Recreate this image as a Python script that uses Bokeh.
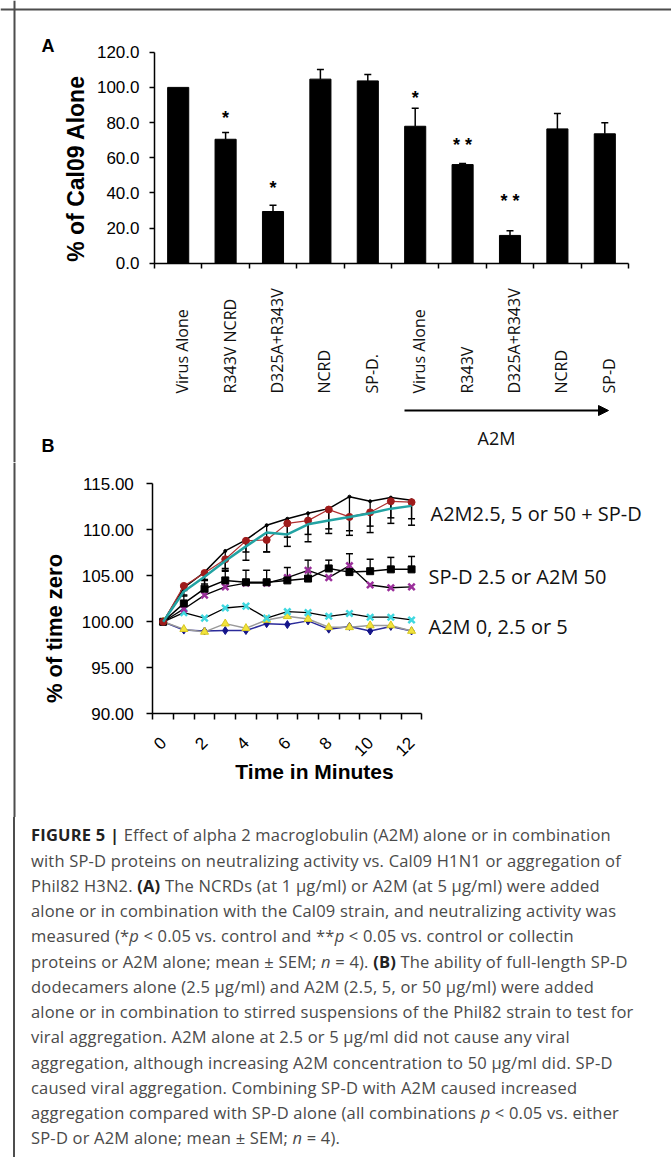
import math
from bokeh.plotting import figure
from bokeh.models import (LinearAxis, FixedTicker, PrintfTickFormatter, Span, Whisker,
                          ColumnDataSource, Arrow, NormalHead, TeeHead, Div, Range1d)
from bokeh.layouts import column
from bokeh.embed import file_html
from bokeh.resources import INLINE
from bokeh.core.properties import value

# ---------------- Panel A data ----------------
a_categories = ["Virus Alone", "R343V NCRD", "D325A+R343V", "NCRD", "SP-D.",
                "Virus Alone", "R343V", "D325A+R343V", "NCRD", "SP-D"]
a_values = [100.0, 70.5, 29.4, 104.7, 103.7, 77.9, 56.1, 15.8, 76.4, 73.6]
a_sem = [0.0, 3.8, 3.6, 5.5, 3.6, 10.3, 0.6, 2.6, 8.8, 6.3]
a_sig = ["", "*", "*", "", "", "*", "* *", "* *", "", ""]
a_sig_y = [None, 82.7, 42.7, None, None, 93.9, 67.1, 35.1, None, None]
a_group_label = "A2M"
a_yticks = [0, 20, 40, 60, 80, 100, 120]
a_ylabel = "% of Cal09 Alone"

# ---------------- Panel B data ----------------
b_minutes = list(range(13))
b_tick_minutes = [0, 2, 4, 6, 8, 10, 12]
b_yticks = [90, 95, 100, 105, 110, 115]
b_ylabel = "% of time zero"
b_xlabel = "Time in Minutes"
# A2M 2.5, 5 or 50 + SP-D
b_combo_black = [100.0, 103.7, 105.4, 107.7, 108.9, 110.5, 111.2, 111.8, 112.3, 113.6, 113.1, 113.5, 113.2]
b_combo_black_sem = [0.0, 0.8, 1.3, 2.1, 2.2, 2.9, 3.0, 3.1, 2.7, 4.2, 3.4, 2.8, 2.7]
b_combo_red = [100.0, 103.9, 105.3, 106.8, 108.8, 108.9, 110.7, 111.0, 112.2, 111.4, 111.9, 113.1, 113.0]
b_combo_red_sem = [0.0, 0.5, 0.8, 1.0, 1.2, 1.3, 1.5, 1.5, 2.1, 1.5, 1.5, 1.8, 1.8]
b_combo_teal = [100.0, 103.3, 104.9, 106.6, 108.2, 109.7, 109.5, 110.6, 111.0, 111.4, 111.8, 112.3, 112.6]
# SP-D 2.5 or A2M 50
b_spd = [100.0, 102.0, 103.6, 104.5, 104.3, 104.3, 104.5, 104.7, 105.8, 105.4, 105.5, 105.7, 105.7]
b_spd_sem = [0.0, 0.8, 1.0, 1.0, 1.3, 1.3, 1.4, 2.0, 0.9, 2.0, 1.3, 1.3, 1.4]
b_a2m50 = [100.0, 101.4, 102.9, 103.8, 104.2, 104.2, 104.8, 105.6, 104.8, 106.1, 104.0, 103.7, 103.8]
# A2M 0, 2.5 or 5
b_a2m0 = [100.0, 101.0, 100.4, 101.5, 101.7, 100.4, 101.1, 101.0, 100.6, 100.9, 100.5, 100.5, 100.2]
b_a2m25 = [100.0, 99.2, 98.9, 99.8, 99.3, 100.2, 100.6, 100.3, 99.4, 99.4, 99.6, 99.6, 99.0]
b_a2m5 = [100.0, 99.1, 99.0, 99.05, 99.05, 99.8, 99.7, 100.1, 99.2, 99.5, 99.0, 99.5, 99.0]
b_group_labels = ["A2M2.5, 5 or 50 + SP-D", "SP-D 2.5 or A2M 50", "A2M 0, 2.5 or 5"]

# ---------------- layout geometry (page pixels, page origin at 0,0) ----------------
PAGE_W = 671
A_H = 462
B_H = 355
CAP_H = 1157 - A_H - B_H
FRAME = "#4d4d4d"
ARIAL = "Liberation Sans"
CAL = "Open Sans"

A_AXIS_X = 154.0
A_CAT_W = 47.4
A_Y0 = 262.7
A_PPU = 1.758


def ax(px):
    return (px - A_AXIS_X) / A_CAT_W - 0.5


def ay(py):
    return (A_Y0 - py) / A_PPU


def style_axis(axs, tick_len):
    axs.axis_line_width = 1.5
    axs.axis_line_color = "black"
    axs.major_tick_line_width = 1.5
    axs.minor_tick_line_width = 1.5
    axs.major_tick_in = 0
    axs.major_tick_out = tick_len
    axs.minor_tick_in = 0
    axs.minor_tick_out = tick_len
    axs.major_label_text_font = ARIAL
    axs.major_label_text_font_size = "17px"
    axs.major_label_text_color = "black"


pA = figure(width=PAGE_W, height=A_H,
            x_range=Range1d(ax(0), ax(PAGE_W)),
            y_range=Range1d(ay(A_H), ay(0)),
            output_backend="svg", toolbar_location=None, min_border=0,
            x_axis_location=None, y_axis_location=None)
pA.outline_line_color = None
pA.grid.visible = False
pA.background_fill_color = "white"
pA.border_fill_color = "white"

yA = LinearAxis(fixed_location=-0.5, bounds=(0, 120), ticker=FixedTicker(ticks=a_yticks),
                formatter=PrintfTickFormatter(format="%.1f"))
xA = LinearAxis(fixed_location=0, bounds=(-0.5, 9.5),
                ticker=FixedTicker(ticks=[], minor_ticks=[i - 0.5 for i in range(11)]))
style_axis(yA, 5)
style_axis(xA, 5)
yA.minor_tick_line_color = None
yA.major_label_standoff = 10
xA.major_tick_line_color = None
xA.major_label_text_font_size = "0px"
pA.add_layout(yA, "left")
pA.add_layout(xA, "below")

a_x = list(range(len(a_values)))
pA.vbar(x=a_x, top=a_values, width=0.445, color="black")
err_src = ColumnDataSource(dict(
    x=[x for x, e in zip(a_x, a_sem) if e > 0],
    lo=[v for v, e in zip(a_values, a_sem) if e > 0],
    hi=[v + e for v, e in zip(a_values, a_sem) if e > 0]))
pA.add_layout(Whisker(source=err_src, base="x", lower="lo", upper="hi",
                      line_color="black", line_width=1.5,
                      upper_head=TeeHead(size=7, line_width=1.5, line_color="black"),
                      lower_head=None))
sig_x = [x for x, s in zip(a_x, a_sig) if s]
sig_t = [s for s in a_sig if s]
sig_yy = [y for y, s in zip(a_sig_y, a_sig) if s]
pA.text(x=sig_x, y=sig_yy, text=sig_t, text_align="center", text_baseline="middle",
        text_font=value(ARIAL), text_font_style="bold", text_font_size="18px", text_color="black")

# y-axis title
pA.text(x=[ax(75)], y=[ay(168)], text=[a_ylabel], angle=math.pi / 2, text_align="center",
        text_baseline="middle", text_font=value(ARIAL), text_font_style="bold",
        text_font_size="23px", text_color="black")

lab_dx = 4.0 / A_CAT_W
pA.text(x=[x + lab_dx for x in a_x], y=[ay(393)] * len(a_x), text=a_categories,
        angle=math.pi / 2, text_align="left", text_baseline="middle",
        text_font=value(CAL), text_font_size="16px", text_color="#111111")
pA.add_layout(Arrow(end=NormalHead(size=10, fill_color="black", line_color="black"),
                    x_start=ax(404), y_start=ay(410), x_end=ax(608), y_end=ay(410),
                    line_color="black", line_width=2))
pA.text(x=[ax(496)], y=[ay(437)], text=[a_group_label], text_align="center", text_baseline="middle",
        text_font=value(CAL), text_font_size="18px", text_color="#111111")
pA.text(x=[ax(41), ax(41)], y=[ay(45), ay(445)], text=["A", "B"], text_align="left",
        text_baseline="alphabetic", text_font=value(ARIAL), text_font_style="bold",
        text_font_size="18px", text_color="black")
pA.add_layout(Span(location=ax(14), dimension="height", line_color=FRAME, line_width=2))
pA.add_layout(Span(location=ay(9), dimension="width", line_color=FRAME, line_width=2))

# ---------------- Panel B ----------------
B_TOP = A_H
B_AXIS_X = 152.3
B_CAT_W = 20.7
B_Y100 = 621.3
B_PPU = 9.2


def bx(px):
    return (px - B_AXIS_X) / B_CAT_W - 0.5


def by(py):
    return 100 + (B_Y100 - py) / B_PPU


pB = figure(width=PAGE_W, height=B_H,
            x_range=Range1d(bx(0), bx(PAGE_W)),
            y_range=Range1d(by(B_TOP + B_H), by(B_TOP)),
            output_backend="svg", toolbar_location=None, min_border=0,
            x_axis_location=None, y_axis_location=None)
pB.outline_line_color = None
pB.grid.visible = False
pB.background_fill_color = "white"
pB.border_fill_color = "white"

yB = LinearAxis(fixed_location=-0.5, bounds=(90, 115), ticker=FixedTicker(ticks=b_yticks),
                formatter=PrintfTickFormatter(format="%.2f"))
xB = LinearAxis(fixed_location=90, bounds=(-0.5, 12.5),
                ticker=FixedTicker(ticks=b_tick_minutes, minor_ticks=[i - 0.5 for i in range(14)]))
style_axis(yB, 6)
style_axis(xB, 6)
yB.minor_tick_line_color = None
yB.major_label_standoff = 13
xB.major_tick_line_color = None
xB.major_label_orientation = math.pi / 4
xB.major_label_standoff = 20
pB.add_layout(yB, "left")
pB.add_layout(xB, "below")


def whisk(vals, sems, up):
    src = ColumnDataSource(dict(
        x=[x for x, e in zip(b_minutes, sems) if e > 0],
        lo=[v if up else v - e for v, e in zip(vals, sems) if e > 0],
        hi=[v + e if up else v for v, e in zip(vals, sems) if e > 0]))
    head = TeeHead(size=7, line_width=1.5, line_color="black")
    return Whisker(source=src, base="x", lower="lo", upper="hi", line_color="black", line_width=1.3,
                   upper_head=head if up else None, lower_head=None if up else head)


pB.add_layout(whisk(b_combo_black, b_combo_black_sem, False))
pB.add_layout(whisk(b_combo_red, b_combo_red_sem, False))
pB.add_layout(whisk(b_spd, b_spd_sem, True))

# bottom group
pB.line(b_minutes, b_a2m5, line_color="#2b2b9a", line_width=1.5)
pB.scatter(b_minutes, b_a2m5, marker="diamond", size=8, fill_color="#14148a", line_color="#14148a")
pB.line(b_minutes, b_a2m25, line_color="#9a9a9a", line_width=1.5)
pB.scatter(b_minutes, b_a2m25, marker="triangle", size=8, fill_color="#f2e33c", line_color="#d8c820")
pB.line(b_minutes, b_a2m0, line_color="black", line_width=1.3)
pB.scatter(b_minutes, b_a2m0, marker="x", size=9, line_color="#3fd8e0", line_width=2.5)
# middle group
pB.line(b_minutes, b_a2m50, line_color="black", line_width=1.3)
pB.scatter(b_minutes, b_a2m50, marker="x", size=9, line_color="#9b2f9b", line_width=2.5)
pB.line(b_minutes, b_spd, line_color="black", line_width=1.5)
pB.scatter(b_minutes, b_spd, marker="square", size=7, fill_color="black", line_color="black")
# top group
pB.line(b_minutes, b_combo_black, line_color="black", line_width=1.5)
pB.scatter(b_minutes, b_combo_black, marker="circle", size=3, fill_color="black", line_color="black")
pB.line(b_minutes, b_combo_red, line_color="#b03030", line_width=1.2)
pB.scatter(b_minutes, b_combo_red, marker="circle", size=7, fill_color="#9e1b1b", line_color="#9e1b1b")
pB.line(b_minutes, b_combo_teal, line_color="#22a3a3", line_width=2.5)

pB.text(x=[bx(430), bx(428), bx(428)], y=[by(513), by(576), by(626)], text=b_group_labels,
        text_align="left", text_baseline="middle", text_font=value(CAL),
        text_font_size="20px", text_color="#111111")
pB.text(x=[bx(314)], y=[by(771)], text=[b_xlabel], text_align="center", text_baseline="middle",
        text_font=value(ARIAL), text_font_style="bold", text_font_size="21px", text_color="black")
pB.text(x=[bx(54)], y=[by(628)], text=[b_ylabel], angle=math.pi / 2, text_align="center",
        text_baseline="middle", text_font=value(ARIAL), text_font_style="bold",
        text_font_size="22px", text_color="black")
pB.add_layout(Span(location=bx(14), dimension="height", line_color=FRAME, line_width=2))

# ---------------- caption ----------------
cap_lines = [
    '<b style="color:#222">FIGURE 5 |</b> Effect of alpha 2 macroglobulin (A2M) alone or in combination',
    'with SP-D proteins on neutralizing activity vs. Cal09 H1N1 or aggregation of',
    'Phil82 H3N2. <b style="color:#222">(A)</b> The NCRDs (at 1 \u03bcg/ml) or A2M (at 5 \u03bcg/ml) were added',
    'alone or in combination with the Cal09 strain, and neutralizing activity was',
    'measured (*<i>p</i> &lt; 0.05 vs. control and **<i>p</i> &lt; 0.05 vs. control or collectin',
    'proteins or A2M alone; mean \u00b1 SEM; <i>n</i> = 4). <b style="color:#222">(B)</b> The ability of full-length SP-D',
    'dodecamers alone (2.5 \u03bcg/ml) and A2M (2.5, 5, or 50 \u03bcg/ml) were added',
    'alone or in combination to stirred suspensions of the Phil82 strain to test for',
    'viral aggregation. A2M alone at 2.5 or 5 \u03bcg/ml did not cause any viral',
    'aggregation, although increasing A2M concentration to 50 \u03bcg/ml did. SP-D',
    'caused viral aggregation. Combining SP-D with A2M caused increased',
    'aggregation compared with SP-D alone (all combinations <i>p</i> &lt; 0.05 vs. either',
    'SP-D or A2M alone; mean \u00b1 SEM; <i>n</i> = 4).',
]
pad_top = 835 - 12.6 - (A_H + B_H)
cap_html = ('<div style="border-left:2px solid %s;margin-left:13px;height:%dpx;box-sizing:border-box;'
            'padding:%.1fpx 0 0 16px;font-family:\'Open Sans\',sans-serif;font-size:16.5px;'
            'letter-spacing:0.2px;line-height:25.25px;color:#4a4a4a;white-space:nowrap;overflow:hidden">%s</div>'
            % (FRAME, CAP_H, pad_top, "<br>".join(cap_lines)))
caption = Div(text=cap_html, width=PAGE_W, height=CAP_H, margin=0)

layout = column(pA, pB, caption, spacing=0)
open("out.html", "w").write(file_html(layout, INLINE))
